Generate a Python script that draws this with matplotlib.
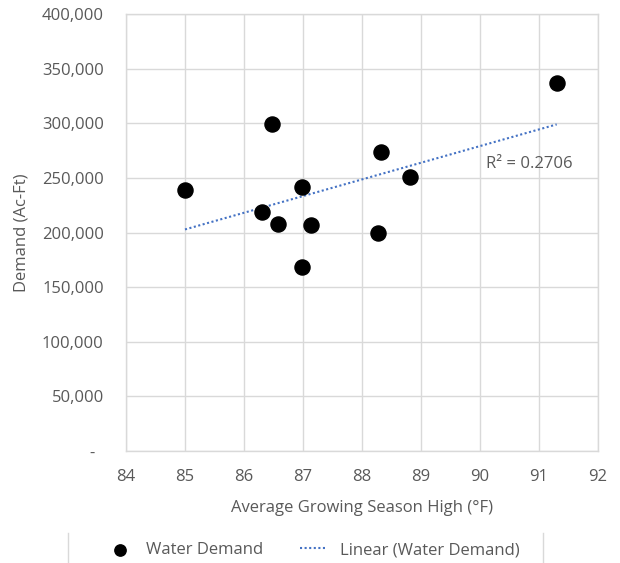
import numpy as np
import matplotlib.pyplot as plt
from matplotlib.ticker import FuncFormatter
from matplotlib.lines import Line2D

plt.rcParams['font.family'] = ['Open Sans', 'DejaVu Sans']

# Average growing season high (F) vs water demand (Ac-Ft)
temps = [85.0, 86.47, 86.30, 86.58, 86.98, 87.13, 86.99, 91.30, 88.33, 88.81, 88.27]
demand = [239300, 299700, 218900, 208200, 242000, 207000, 168800, 337000, 274100, 250900, 199600]

x_ticks = [84, 85, 86, 87, 88, 89, 90, 91, 92]
y_ticks = [0, 50000, 100000, 150000, 200000, 250000, 300000, 350000, 400000]

text_col = '#595959'
grid_col = '#D9D9D9'
trend_col = '#4472C4'
fs = 12

fig = plt.figure(figsize=(6.2, 5.63), dpi=100)
ax = fig.add_axes([0.2032, 0.1989, 0.7613, 0.7762])

ax.scatter(temps, demand, s=118, color='black', zorder=3, label='Water Demand')

# linear trendline over data range
slope, icpt = np.polyfit(temps, demand, 1)
xs = np.array([min(temps), max(temps)])
ax.plot(xs, slope * xs + icpt, linestyle=(0, (1, 1.2)), color=trend_col, lw=1.5,
        zorder=2, label='Linear (Water Demand)')
ax.text(90.1, 262800, 'R² = 0.2706', color=text_col, fontsize=fs, va='center', ha='left')

ax.set_xlim(84, 92)
ax.set_ylim(0, 400000)
ax.set_xticks(x_ticks)
ax.set_yticks(y_ticks)
ax.yaxis.set_major_formatter(FuncFormatter(lambda v, p: '-  ' if v == 0 else f'{int(v):,}'))
ax.grid(True, color=grid_col, lw=1)
ax.set_axisbelow(True)
for sp in ax.spines.values():
    sp.set_color(grid_col)
    sp.set_linewidth(1)
ax.tick_params(length=0, labelsize=fs, labelcolor=text_col)
ax.tick_params(axis='y', pad=16)
ax.tick_params(axis='x', pad=13)

ax.set_xlabel('Average Growing Season High (°F)', fontsize=fs, color=text_col, labelpad=11)
ax.set_ylabel('Demand (Ac-Ft)', fontsize=fs, color=text_col, labelpad=9)

fig.legend(loc='center', bbox_to_anchor=(0.505, 0.023), ncol=2, frameon=False,
           fontsize=fs, labelcolor=text_col, handlelength=1.6, columnspacing=2.2,
           handletextpad=0.8, markerscale=0.75)

# light separators from legend box
for xf in [68 / 620, 543 / 620]:
    fig.add_artist(Line2D([xf, xf], [0, 30 / 563], color=grid_col, lw=1))

fig.savefig('out.png', dpi=100)
